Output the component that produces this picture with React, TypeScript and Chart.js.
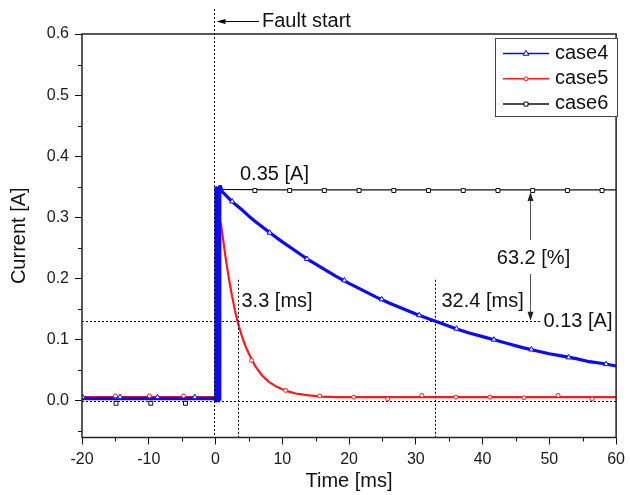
import React, { useEffect, useRef } from 'react';
import { Chart, registerables } from 'chart.js';
Chart.register(...registerables);

const FONT = "'Liberation Sans', Arial, sans-serif";

// ---- axes ----
const xMin = -20;
const xMax = 60;
const xMinorTicks = [-15, -5, 5, 15, 25, 35, 45, 55];
const yMin = -0.06;
const yMax = 0.6;
const yTicks = [0, 0.1, 0.2, 0.3, 0.4, 0.5, 0.6];
const yMinorTicks = [-0.05, 0.05, 0.15, 0.25, 0.35, 0.45, 0.55];

// ---- series ----
const seriesNames = ['case4', 'case5', 'case6'];
const seriesColors = ['#0a0aff', '#ff1a1a', '#111111'];
const seriesMarkers = ['triangle', 'circle', 'rect'];

// case4 (blue)
const time4 = [-20, -15, -10, -5, -0.1, 0.0, 0.05, 0.1, 0.15, 0.2, 0.25, 0.3, 0.35, 0.4, 0.45, 0.5, 0.55, 0.6, 0.65, 0.7, 1, 2, 3, 4, 5, 6, 8, 10, 12, 14, 16, 18, 20, 22, 24, 26, 28, 30, 32, 34, 36, 38, 40, 42, 44, 46, 48, 50, 52, 54, 56, 58, 60];
const current4 = [0.004, 0.004, 0.004, 0.004, 0.004, 0.0, 0.35, 0.0, 0.35, 0.0, 0.35, 0.0, 0.35, 0.0, 0.35, 0.0, 0.35, 0.0, 0.35, 0.352, 0.342, 0.331, 0.321, 0.312, 0.302, 0.293, 0.276, 0.26, 0.245, 0.23, 0.217, 0.204, 0.192, 0.181, 0.17, 0.16, 0.151, 0.142, 0.134, 0.126, 0.118, 0.111, 0.105, 0.099, 0.093, 0.087, 0.082, 0.077, 0.073, 0.069, 0.064, 0.061, 0.057];
const markerTime4 = [-19.9, -14.3, -8.7, -3.1, 2.5, 8.1, 13.7, 19.3, 24.9, 30.5, 36.1, 41.7, 47.3, 52.9, 58.5];
const markerCurrent4 = [0.006, 0.006, 0.006, 0.006, 0.326, 0.275, 0.232, 0.197, 0.166, 0.14, 0.118, 0.1, 0.084, 0.071, 0.06];

// case5 (red)
const time5 = [-20, -10, -0.1, 0.0, 0.3, 0.8, 1, 1.5, 2, 2.5, 3, 3.5, 4, 4.5, 5, 5.5, 6, 7, 8, 9, 10, 11, 12, 14, 16, 18, 20, 30, 40, 50, 60];
const current5 = [0.006, 0.006, 0.006, 0.006, 0.3, 0.29, 0.275, 0.235, 0.2, 0.17, 0.143, 0.122, 0.104, 0.089, 0.077, 0.066, 0.056, 0.041, 0.031, 0.024, 0.019, 0.015, 0.012, 0.009, 0.007, 0.006, 0.006, 0.006, 0.006, 0.006, 0.006];
const markerTime5 = [-15.0, -9.9, -4.8, 5.4, 10.5, 15.6, 20.7, 25.8, 30.9, 36.0, 41.1, 46.2, 51.3, 56.4];
const markerCurrent5 = [0.008, 0.008, 0.008, 0.066, 0.017, 0.008, 0.006, 0.003, 0.009, 0.006, 0.006, 0.005, 0.009, 0.003];

// case6 (black)
const time6 = [-20, -10, -0.1, 0.0, 0.1, 1, 10, 20, 30, 40, 50, 60];
const current6 = [0.002, 0.002, 0.002, 0.0, 0.35, 0.346, 0.345, 0.345, 0.345, 0.345, 0.345, 0.345];
const markerTime6 = [-14.9, -9.7, -4.5, 5.9, 11.1, 16.3, 21.5, 26.7, 31.9, 37.1, 42.3, 47.5, 52.7, 57.9];
const markerCurrent6 = [-0.004, -0.004, -0.004, 0.344, 0.344, 0.344, 0.344, 0.344, 0.344, 0.344, 0.344, 0.344, 0.344, 0.344];

// ---- annotations ----
const faultTime = 0;
const shortTau = 3.3;
const longTauLine = 32.8;
const steadyLevel = 0.345;
const level63 = 0.13;
const guideTop = 0.198;
const arrowTime = 47.1;
const labelFault = 'Fault start';
const labelSteady = '0.35 [A]';
const labelShort = '3.3 [ms]';
const labelLong = '32.4 [ms]';
const labelLevel = '0.13 [A]';
const labelPercent = '63.2 [%]';

const toPts = (t: number[], v: number[]) => t.map((x, i) => ({ x, y: v[i] }));

const framePlugin = {
  id: 'frameAndNotes',
  afterDatasetsDraw(chart: any) {
    const { ctx, chartArea: ca, scales } = chart;
    const sx = scales.x;
    const sy = scales.y;
    const snap = (v: number) => Math.round(v) + 0.5;
    const line = (x1: number, y1: number, x2: number, y2: number) => {
      ctx.beginPath();
      ctx.moveTo(x1, y1);
      ctx.lineTo(x2, y2);
      ctx.stroke();
    };
    ctx.save();
    // dotted guides
    ctx.strokeStyle = '#000';
    ctx.lineWidth = 1;
    ctx.setLineDash([2, 2]);
    const x0 = snap(sx.getPixelForValue(faultTime)) - 2;
    line(x0, 9, x0, ca.bottom);
    const yZero = snap(sy.getPixelForValue(0));
    line(ca.left, yZero, ca.right, yZero);
    const yLev = snap(sy.getPixelForValue(level63));
    line(ca.left, yLev, sx.getPixelForValue(arrowTime) + 11, yLev);
    const yTop = sy.getPixelForValue(guideTop);
    const xs = snap(sx.getPixelForValue(shortTau));
    line(xs, yTop, xs, ca.bottom);
    const xl = snap(sx.getPixelForValue(longTauLine));
    line(xl, yTop, xl, ca.bottom);
    ctx.setLineDash([]);

    // Fault start arrow
    const ay = 21.5;
    ctx.strokeStyle = '#000';
    ctx.fillStyle = '#000';
    ctx.lineWidth = 1;
    line(x0 + 4, ay, 259, ay);
    ctx.beginPath();
    ctx.moveTo(x0 + 2, ay);
    ctx.lineTo(x0 + 11, ay - 2.5);
    ctx.lineTo(x0 + 11, ay + 2.5);
    ctx.closePath();
    ctx.fill();

    // 63.2 % arrow
    const ax = snap(sx.getPixelForValue(arrowTime));
    const yS = sy.getPixelForValue(steadyLevel) + 2;
    const yL = sy.getPixelForValue(level63) - 0.5;
    ctx.strokeStyle = '#555';
    ctx.fillStyle = '#222';
    line(ax, yS + 6, ax, 240);
    line(ax, 274, ax, yL - 6);
    ctx.beginPath();
    ctx.moveTo(ax, yS);
    ctx.lineTo(ax - 3, yS + 9);
    ctx.lineTo(ax + 3, yS + 9);
    ctx.closePath();
    ctx.fill();
    ctx.beginPath();
    ctx.moveTo(ax, yL);
    ctx.lineTo(ax - 3, yL - 9);
    ctx.lineTo(ax + 3, yL - 9);
    ctx.closePath();
    ctx.fill();

    // texts
    ctx.fillStyle = '#111';
    ctx.font = `20px ${FONT}`;
    ctx.textBaseline = 'alphabetic';
    ctx.textAlign = 'left';
    ctx.fillText(labelFault, 262, 27);
    ctx.fillText(labelSteady, 240, 180);
    ctx.fillText(labelShort, xs + 3, 307);
    ctx.fillText(labelLong, xl + 6, 307);
    ctx.fillText(labelLevel, ax + 13, 327);
    ctx.textAlign = 'center';
    ctx.fillText(labelPercent, ax + 3, 264);
    ctx.restore();
  },
  afterDraw(chart: any) {
    const { ctx, chartArea: ca, scales } = chart;
    const sx = scales.x;
    const sy = scales.y;
    ctx.save();
    ctx.strokeStyle = '#111';
    ctx.lineWidth = 1;
    for (const v of xMinorTicks) {
      const p = Math.round(sx.getPixelForValue(v)) + 0.5;
      ctx.beginPath();
      ctx.moveTo(p, ca.bottom);
      ctx.lineTo(p, ca.bottom + 4);
      ctx.stroke();
    }
    for (const v of yMinorTicks) {
      const p = Math.round(sy.getPixelForValue(v)) + 0.5;
      ctx.beginPath();
      ctx.moveTo(ca.left - 4, p);
      ctx.lineTo(ca.left, p);
      ctx.stroke();
    }
    // frame
    ctx.lineWidth = 1.5;
    ctx.strokeStyle = '#222';
    ctx.strokeRect(ca.left, ca.top, ca.right - ca.left, ca.bottom - ca.top);

    // legend
    const bx = 495.5, by = 38.5, bw = 122, bh = 78;
    ctx.fillStyle = '#fff';
    ctx.fillRect(bx, by, bw, bh);
    ctx.lineWidth = 1;
    ctx.strokeStyle = '#444';
    ctx.strokeRect(bx, by, bw, bh);
    ctx.font = `20px ${FONT}`;
    ctx.textBaseline = 'middle';
    ctx.textAlign = 'left';
    seriesNames.forEach((name, i) => {
      const ry = 53.5 + i * 25.3;
      ctx.strokeStyle = seriesColors[i];
      ctx.lineWidth = 1.5;
      ctx.beginPath();
      ctx.moveTo(503, ry);
      ctx.lineTo(549, ry);
      ctx.stroke();
      ctx.fillStyle = '#fff';
      ctx.lineWidth = 1;
      const cx = 526;
      ctx.beginPath();
      if (seriesMarkers[i] === 'triangle') {
        ctx.moveTo(cx, ry - 3.2);
        ctx.lineTo(cx - 2.8, ry + 1.8);
        ctx.lineTo(cx + 2.8, ry + 1.8);
        ctx.closePath();
      } else if (seriesMarkers[i] === 'circle') {
        ctx.arc(cx, ry, 2, 0, Math.PI * 2);
      } else {
        ctx.rect(cx - 2, ry - 2, 4, 4);
      }
      ctx.fill();
      ctx.stroke();
      ctx.fillStyle = '#111';
      ctx.fillText(name, 555, ry - 0.5);
    });
    ctx.restore();
  },
};

export default function App() {
  const ref = useRef<HTMLCanvasElement | null>(null);
  useEffect(() => {
    if (!ref.current) return;
    const lines = [
      { t: time4, v: current4, w: 3.2 },
      { t: time5, v: current5, w: 2.2 },
      { t: time6, v: current6, w: 1.2 },
    ];
    const markers = [
      { t: markerTime4, v: markerCurrent4, r: 3 },
      { t: markerTime5, v: markerCurrent5, r: 2 },
      { t: markerTime6, v: markerCurrent6, r: 2.8 },
    ];
    const datasets: any[] = [];
    markers.forEach((m, i) => {
      datasets.push({
        label: seriesNames[i] + ' markers',
        data: toPts(m.t, m.v),
        showLine: false,
        pointStyle: seriesMarkers[i],
        pointRadius: m.r,
        pointBackgroundColor: '#fff',
        pointBorderColor: seriesColors[i],
        pointBorderWidth: 1,
      });
    });
    lines.forEach((l, i) => {
      datasets.push({
        label: seriesNames[i],
        data: toPts(l.t, l.v),
        borderColor: seriesColors[i],
        borderWidth: l.w,
        borderJoinStyle: 'bevel',
        pointRadius: 0,
        tension: 0,
        fill: false,
      });
    });
    const chart = new Chart(ref.current, {
      type: 'line',
      data: { datasets },
      options: {
        responsive: false,
        animation: false,
        events: [],
        layout: { padding: { top: 34, right: 9, left: 0, bottom: 0 } },
        plugins: { legend: { display: false }, tooltip: { enabled: false } },
        scales: {
          x: {
            type: 'linear',
            min: xMin,
            max: xMax,
            border: { display: false },
            grid: { display: true, drawOnChartArea: false, drawTicks: true, tickLength: 7, tickColor: '#111', color: '#111' },
            ticks: {
              stepSize: 10,
              padding: 5,
              color: '#1a1a1a',
              font: { family: FONT, size: 16 },
              maxRotation: 0,
              callback: (v: any) => String(v),
            },
            title: {
              display: true,
              text: 'Time [ms]',
              color: '#111',
              font: { family: FONT, size: 20 },
              padding: { top: 0, bottom: 2 },
            },
            afterFit: (s: any) => { s.height = 57.5; },
          },
          y: {
            type: 'linear',
            min: yMin,
            max: yMax,
            border: { display: false },
            grid: { display: true, drawOnChartArea: false, drawTicks: true, tickLength: 7, tickColor: '#111', color: '#111' },
            afterBuildTicks: (s: any) => { s.ticks = yTicks.map((value) => ({ value })); },
            ticks: {
              padding: 6,
              color: '#1a1a1a',
              font: { family: FONT, size: 16 },
              callback: (v: any) => Number(v).toFixed(1),
            },
            title: {
              display: true,
              text: 'Current [A]',
              color: '#111',
              font: { family: FONT, size: 20 },
              padding: { top: 7, bottom: 0 },
            },
            afterFit: (s: any) => { s.width = 82; },
          },
        },
      },
      plugins: [framePlugin],
    });
    return () => chart.destroy();
  }, []);
  return (
    <div style={{ position: 'fixed', left: 0, top: 0, width: 630, height: 495, background: '#fff' }}>
      <canvas ref={ref} width={630} height={495} style={{ display: 'block' }} />
    </div>
  );
}
